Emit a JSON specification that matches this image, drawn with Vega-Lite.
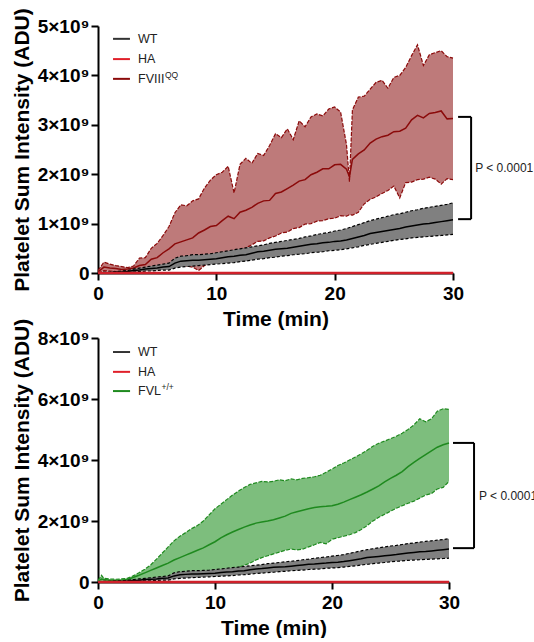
{
  "$schema": "https://vega.github.io/schema/vega-lite/v6.json",
  "padding": {"left": 11, "top": 7, "right": 0, "bottom": 0},
  "background": "white",
  "config": {
    "font": "Liberation Sans",
    "view": {"stroke": null},
    "axis": {
      "grid": false,
      "domainColor": "black", "domainWidth": 2,
      "tickColor": "black", "tickWidth": 2, "tickSize": 7,
      "labelFont": "Liberation Sans", "labelFontWeight": "bold", "labelColor": "black",
      "titleFont": "Liberation Sans", "titleFontWeight": "bold", "titleFontSize": 21, "titleColor": "black",
      "labelFlush": false
    },
    "axisX": {"labelFontSize": 19, "labelPadding": 4, "titlePadding": 5},
    "axisY": {"labelFontSize": 19, "labelPadding": 2, "titlePadding": 5}
  },
  "datasets": {
    "fviii": [
      {"t":0,"lo":0,"mean":0.02e9,"hi":0.05e9},
      {"t":0.5,"lo":0.05e9,"mean":0.12e9,"hi":0.22e9},
      {"t":1,"lo":0.04e9,"mean":0.1e9,"hi":0.18e9},
      {"t":1.5,"lo":0.03e9,"mean":0.09e9,"hi":0.15e9},
      {"t":2,"lo":0.03e9,"mean":0.07e9,"hi":0.13e9},
      {"t":2.5,"lo":0.04e9,"mean":0.08e9,"hi":0.11e9},
      {"t":3,"lo":0.04e9,"mean":0.1e9,"hi":0.14e9},
      {"t":3.5,"lo":0.05e9,"mean":0.15e9,"hi":0.3e9},
      {"t":4,"lo":0.04e9,"mean":0.17e9,"hi":0.31e9},
      {"t":4.5,"lo":0.1e9,"mean":0.28e9,"hi":0.5e9},
      {"t":5,"lo":0.15e9,"mean":0.31e9,"hi":0.6e9},
      {"t":5.5,"lo":0.13e9,"mean":0.41e9,"hi":0.76e9},
      {"t":6,"lo":0.17e9,"mean":0.49e9,"hi":0.94e9},
      {"t":6.5,"lo":0.16e9,"mean":0.59e9,"hi":1.22e9},
      {"t":7,"lo":0.19e9,"mean":0.63e9,"hi":1.38e9},
      {"t":7.5,"lo":0.14e9,"mean":0.67e9,"hi":1.36e9},
      {"t":8,"lo":0.12e9,"mean":0.71e9,"hi":1.46e9},
      {"t":8.5,"lo":0.05e9,"mean":0.81e9,"hi":1.5e9},
      {"t":9,"lo":0.15e9,"mean":0.87e9,"hi":1.72e9},
      {"t":9.5,"lo":0.22e9,"mean":0.94e9,"hi":1.88e9},
      {"t":10,"lo":0.27e9,"mean":0.96e9,"hi":1.99e9},
      {"t":10.5,"lo":0.33e9,"mean":1.06e9,"hi":2.04e9},
      {"t":11,"lo":0.37e9,"mean":1.15e9,"hi":2.16e9},
      {"t":11.5,"lo":0.42e9,"mean":1.1e9,"hi":1.62e9},
      {"t":12,"lo":0.45e9,"mean":1.23e9,"hi":2.2e9},
      {"t":12.5,"lo":0.51e9,"mean":1.27e9,"hi":2.32e9},
      {"t":13,"lo":0.57e9,"mean":1.33e9,"hi":2.22e9},
      {"t":13.5,"lo":0.64e9,"mean":1.41e9,"hi":2.42e9},
      {"t":14,"lo":0.65e9,"mean":1.46e9,"hi":2.38e9},
      {"t":14.5,"lo":0.71e9,"mean":1.47e9,"hi":2.58e9},
      {"t":15,"lo":0.75e9,"mean":1.61e9,"hi":2.82e9},
      {"t":15.5,"lo":0.81e9,"mean":1.64e9,"hi":2.74e9},
      {"t":16,"lo":0.83e9,"mean":1.71e9,"hi":2.92e9},
      {"t":16.5,"lo":0.9e9,"mean":1.78e9,"hi":2.7e9},
      {"t":17,"lo":0.92e9,"mean":1.86e9,"hi":3.08e9},
      {"t":17.5,"lo":0.99e9,"mean":1.89e9,"hi":2.96e9},
      {"t":18,"lo":1.0e9,"mean":1.99e9,"hi":3.16e9},
      {"t":18.5,"lo":1.05e9,"mean":2.04e9,"hi":3.22e9},
      {"t":19,"lo":1.06e9,"mean":2.11e9,"hi":3.18e9},
      {"t":19.5,"lo":1.1e9,"mean":2.11e9,"hi":3.32e9},
      {"t":20,"lo":1.11e9,"mean":2.19e9,"hi":3.36e9},
      {"t":20.5,"lo":1.16e9,"mean":2.2e9,"hi":3.26e9},
      {"t":21,"lo":1.15e9,"mean":2.1e9,"hi":2.6e9},
      {"t":21.25,"lo":1.18e9,"mean":1.95e9,"hi":1.85e9},
      {"t":21.5,"lo":1.17e9,"mean":2.3e9,"hi":3.3e9},
      {"t":22,"lo":1.23e9,"mean":2.41e9,"hi":3.56e9},
      {"t":22.5,"lo":1.4e9,"mean":2.49e9,"hi":3.58e9},
      {"t":23,"lo":1.49e9,"mean":2.63e9,"hi":3.72e9},
      {"t":23.5,"lo":1.54e9,"mean":2.71e9,"hi":3.86e9},
      {"t":24,"lo":1.61e9,"mean":2.76e9,"hi":3.9e9},
      {"t":24.5,"lo":1.67e9,"mean":2.79e9,"hi":3.74e9},
      {"t":25,"lo":1.76e9,"mean":2.86e9,"hi":3.96e9},
      {"t":25.5,"lo":1.52e9,"mean":2.87e9,"hi":4.0e9},
      {"t":26,"lo":1.83e9,"mean":2.93e9,"hi":4.16e9},
      {"t":26.5,"lo":1.84e9,"mean":3.1e9,"hi":4.4e9},
      {"t":27,"lo":1.89e9,"mean":3.19e9,"hi":4.62e9},
      {"t":27.5,"lo":1.9e9,"mean":3.14e9,"hi":4.2e9},
      {"t":28,"lo":1.94e9,"mean":3.23e9,"hi":4.42e9},
      {"t":28.5,"lo":1.9e9,"mean":3.25e9,"hi":4.46e9},
      {"t":29,"lo":1.8e9,"mean":3.28e9,"hi":4.5e9},
      {"t":29.5,"lo":1.91e9,"mean":3.12e9,"hi":4.38e9},
      {"t":30,"lo":1.89e9,"mean":3.13e9,"hi":4.35e9}
    ],
    "wt": [
      {"t":0,"lo":0,"mean":0,"hi":0},
      {"t":0.5,"lo":0,"mean":0.01e9,"hi":0.02e9},
      {"t":1,"lo":0,"mean":0.01e9,"hi":0.02e9},
      {"t":1.5,"lo":0.01e9,"mean":0.02e9,"hi":0.03e9},
      {"t":2,"lo":0.01e9,"mean":0.02e9,"hi":0.04e9},
      {"t":2.5,"lo":0.01e9,"mean":0.03e9,"hi":0.05e9},
      {"t":3,"lo":0.02e9,"mean":0.05e9,"hi":0.08e9},
      {"t":3.5,"lo":0.03e9,"mean":0.06e9,"hi":0.1e9},
      {"t":4,"lo":0.04e9,"mean":0.08e9,"hi":0.12e9},
      {"t":4.5,"lo":0.04e9,"mean":0.09e9,"hi":0.14e9},
      {"t":5,"lo":0.05e9,"mean":0.1e9,"hi":0.16e9},
      {"t":5.5,"lo":0.06e9,"mean":0.12e9,"hi":0.18e9},
      {"t":6,"lo":0.06e9,"mean":0.13e9,"hi":0.2e9},
      {"t":6.5,"lo":0.1e9,"mean":0.2e9,"hi":0.3e9},
      {"t":7,"lo":0.12e9,"mean":0.24e9,"hi":0.34e9},
      {"t":7.5,"lo":0.13e9,"mean":0.25e9,"hi":0.35e9},
      {"t":8,"lo":0.14e9,"mean":0.26e9,"hi":0.37e9},
      {"t":8.5,"lo":0.15e9,"mean":0.26e9,"hi":0.37e9},
      {"t":9,"lo":0.16e9,"mean":0.27e9,"hi":0.38e9},
      {"t":9.5,"lo":0.17e9,"mean":0.28e9,"hi":0.39e9},
      {"t":10,"lo":0.18e9,"mean":0.29e9,"hi":0.41e9},
      {"t":10.5,"lo":0.19e9,"mean":0.31e9,"hi":0.43e9},
      {"t":11,"lo":0.2e9,"mean":0.33e9,"hi":0.45e9},
      {"t":11.5,"lo":0.21e9,"mean":0.34e9,"hi":0.47e9},
      {"t":12,"lo":0.23e9,"mean":0.36e9,"hi":0.49e9},
      {"t":12.5,"lo":0.24e9,"mean":0.37e9,"hi":0.51e9},
      {"t":13,"lo":0.26e9,"mean":0.4e9,"hi":0.53e9},
      {"t":13.5,"lo":0.28e9,"mean":0.43e9,"hi":0.55e9},
      {"t":14,"lo":0.29e9,"mean":0.44e9,"hi":0.57e9},
      {"t":14.5,"lo":0.31e9,"mean":0.46e9,"hi":0.6e9},
      {"t":15,"lo":0.32e9,"mean":0.48e9,"hi":0.62e9},
      {"t":15.5,"lo":0.34e9,"mean":0.49e9,"hi":0.64e9},
      {"t":16,"lo":0.35e9,"mean":0.5e9,"hi":0.66e9},
      {"t":16.5,"lo":0.37e9,"mean":0.52e9,"hi":0.68e9},
      {"t":17,"lo":0.38e9,"mean":0.54e9,"hi":0.7e9},
      {"t":17.5,"lo":0.39e9,"mean":0.56e9,"hi":0.73e9},
      {"t":18,"lo":0.41e9,"mean":0.58e9,"hi":0.75e9},
      {"t":18.5,"lo":0.42e9,"mean":0.59e9,"hi":0.78e9},
      {"t":19,"lo":0.43e9,"mean":0.61e9,"hi":0.8e9},
      {"t":19.5,"lo":0.45e9,"mean":0.62e9,"hi":0.82e9},
      {"t":20,"lo":0.46e9,"mean":0.64e9,"hi":0.85e9},
      {"t":20.5,"lo":0.47e9,"mean":0.65e9,"hi":0.87e9},
      {"t":21,"lo":0.49e9,"mean":0.67e9,"hi":0.9e9},
      {"t":21.5,"lo":0.51e9,"mean":0.7e9,"hi":0.94e9},
      {"t":22,"lo":0.53e9,"mean":0.73e9,"hi":0.98e9},
      {"t":22.5,"lo":0.56e9,"mean":0.76e9,"hi":1.02e9},
      {"t":23,"lo":0.58e9,"mean":0.8e9,"hi":1.06e9},
      {"t":23.5,"lo":0.6e9,"mean":0.82e9,"hi":1.09e9},
      {"t":24,"lo":0.62e9,"mean":0.84e9,"hi":1.12e9},
      {"t":24.5,"lo":0.64e9,"mean":0.86e9,"hi":1.15e9},
      {"t":25,"lo":0.66e9,"mean":0.88e9,"hi":1.18e9},
      {"t":25.5,"lo":0.68e9,"mean":0.9e9,"hi":1.2e9},
      {"t":26,"lo":0.69e9,"mean":0.93e9,"hi":1.23e9},
      {"t":26.5,"lo":0.71e9,"mean":0.95e9,"hi":1.26e9},
      {"t":27,"lo":0.72e9,"mean":0.97e9,"hi":1.28e9},
      {"t":27.5,"lo":0.73e9,"mean":0.99e9,"hi":1.31e9},
      {"t":28,"lo":0.74e9,"mean":1.0e9,"hi":1.33e9},
      {"t":28.5,"lo":0.75e9,"mean":1.02e9,"hi":1.35e9},
      {"t":29,"lo":0.76e9,"mean":1.04e9,"hi":1.37e9},
      {"t":29.5,"lo":0.77e9,"mean":1.06e9,"hi":1.39e9},
      {"t":30,"lo":0.78e9,"mean":1.08e9,"hi":1.42e9}
    ],
    "fvl": [
      {"t":0,"lo":0,"mean":0.02e9,"hi":0.05e9},
      {"t":0.3,"lo":0.02e9,"mean":0.1e9,"hi":0.22e9},
      {"t":0.5,"lo":0.02e9,"mean":0.08e9,"hi":0.12e9},
      {"t":1,"lo":0.02e9,"mean":0.06e9,"hi":0.1e9},
      {"t":1.5,"lo":0.01e9,"mean":0.05e9,"hi":0.09e9},
      {"t":2,"lo":0.02e9,"mean":0.06e9,"hi":0.1e9},
      {"t":2.5,"lo":0.03e9,"mean":0.08e9,"hi":0.12e9},
      {"t":3,"lo":0.06e9,"mean":0.15e9,"hi":0.2e9},
      {"t":3.5,"lo":0.08e9,"mean":0.22e9,"hi":0.3e9},
      {"t":4,"lo":0.1e9,"mean":0.3e9,"hi":0.42e9},
      {"t":4.5,"lo":0.12e9,"mean":0.38e9,"hi":0.56e9},
      {"t":5,"lo":0.14e9,"mean":0.46e9,"hi":0.75e9},
      {"t":5.5,"lo":0.15e9,"mean":0.54e9,"hi":0.95e9},
      {"t":6,"lo":0.16e9,"mean":0.62e9,"hi":1.15e9},
      {"t":6.5,"lo":0.17e9,"mean":0.72e9,"hi":1.35e9},
      {"t":7,"lo":0.18e9,"mean":0.8e9,"hi":1.5e9},
      {"t":7.5,"lo":0.2e9,"mean":0.88e9,"hi":1.62e9},
      {"t":8,"lo":0.22e9,"mean":0.96e9,"hi":1.75e9},
      {"t":8.5,"lo":0.24e9,"mean":1.04e9,"hi":1.85e9},
      {"t":9,"lo":0.27e9,"mean":1.12e9,"hi":2.0e9},
      {"t":9.5,"lo":0.3e9,"mean":1.22e9,"hi":2.2e9},
      {"t":10,"lo":0.33e9,"mean":1.32e9,"hi":2.4e9},
      {"t":10.5,"lo":0.36e9,"mean":1.45e9,"hi":2.55e9},
      {"t":11,"lo":0.38e9,"mean":1.55e9,"hi":2.7e9},
      {"t":11.5,"lo":0.42e9,"mean":1.64e9,"hi":2.85e9},
      {"t":12,"lo":0.48e9,"mean":1.72e9,"hi":2.98e9},
      {"t":12.5,"lo":0.55e9,"mean":1.8e9,"hi":3.1e9},
      {"t":13,"lo":0.62e9,"mean":1.87e9,"hi":3.2e9},
      {"t":13.5,"lo":0.72e9,"mean":1.93e9,"hi":3.25e9},
      {"t":14,"lo":0.8e9,"mean":1.97e9,"hi":3.3e9},
      {"t":14.5,"lo":0.86e9,"mean":2.0e9,"hi":3.28e9},
      {"t":15,"lo":0.92e9,"mean":2.04e9,"hi":3.3e9},
      {"t":15.5,"lo":0.98e9,"mean":2.1e9,"hi":3.35e9},
      {"t":16,"lo":1.04e9,"mean":2.16e9,"hi":3.32e9},
      {"t":16.5,"lo":1.08e9,"mean":2.25e9,"hi":3.38e9},
      {"t":17,"lo":1.05e9,"mean":2.3e9,"hi":3.35e9},
      {"t":17.5,"lo":1.08e9,"mean":2.35e9,"hi":3.4e9},
      {"t":18,"lo":1.15e9,"mean":2.4e9,"hi":3.42e9},
      {"t":18.5,"lo":1.22e9,"mean":2.44e9,"hi":3.45e9},
      {"t":19,"lo":1.3e9,"mean":2.47e9,"hi":3.5e9},
      {"t":19.5,"lo":1.25e9,"mean":2.48e9,"hi":3.6e9},
      {"t":20,"lo":1.4e9,"mean":2.5e9,"hi":3.7e9},
      {"t":20.5,"lo":1.45e9,"mean":2.55e9,"hi":3.82e9},
      {"t":21,"lo":1.5e9,"mean":2.62e9,"hi":3.9e9},
      {"t":21.5,"lo":1.55e9,"mean":2.7e9,"hi":4.0e9},
      {"t":22,"lo":1.62e9,"mean":2.78e9,"hi":4.1e9},
      {"t":22.5,"lo":1.72e9,"mean":2.86e9,"hi":4.2e9},
      {"t":23,"lo":1.85e9,"mean":2.95e9,"hi":4.32e9},
      {"t":23.5,"lo":2.0e9,"mean":3.05e9,"hi":4.45e9},
      {"t":24,"lo":2.12e9,"mean":3.15e9,"hi":4.55e9},
      {"t":24.5,"lo":2.22e9,"mean":3.28e9,"hi":4.62e9},
      {"t":25,"lo":2.32e9,"mean":3.4e9,"hi":4.7e9},
      {"t":25.5,"lo":2.42e9,"mean":3.5e9,"hi":4.78e9},
      {"t":26,"lo":2.5e9,"mean":3.62e9,"hi":4.88e9},
      {"t":26.5,"lo":2.58e9,"mean":3.78e9,"hi":5.0e9},
      {"t":27,"lo":2.65e9,"mean":3.92e9,"hi":5.15e9},
      {"t":27.5,"lo":2.75e9,"mean":4.05e9,"hi":5.35e9},
      {"t":28,"lo":2.85e9,"mean":4.18e9,"hi":5.25e9},
      {"t":28.5,"lo":2.9e9,"mean":4.3e9,"hi":5.35e9},
      {"t":29,"lo":3.05e9,"mean":4.42e9,"hi":5.6e9},
      {"t":29.5,"lo":3.1e9,"mean":4.5e9,"hi":5.68e9},
      {"t":30,"lo":3.3e9,"mean":4.56e9,"hi":5.66e9}
    ],
    "ha": [
      {"t":0,"mean":0},{"t":5,"mean":0},{"t":10,"mean":0},{"t":15,"mean":0},{"t":20,"mean":0},{"t":25,"mean":0},{"t":30,"mean":0}
    ],
    "one": [{"k": 1}]
  },
  "vconcat": [
    {
      "width": 355, "height": 247,
      "layer": [
        {"data": {"name": "fviii"}, "mark": {"type": "area", "color": "#be7a7a", "opacity": 1},
         "encoding": {
           "x": {"field": "t", "type": "quantitative", "scale": {"domain": [0, 30], "nice": false}, "axis": {"values": [0, 10, 20, 30], "title": "Time (min)"}},
           "y": {"field": "lo", "type": "quantitative", "scale": {"domain": [0, 5e9], "nice": false},
            "axis": {"values": [0, 1e9, 2e9, 3e9, 4e9, 5e9], "title": "Platelet Sum Intensity (ADU)", "labelExpr": "datum.value == 0 ? '0' : format(datum.value / 1e9, 'd') + '×10⁹'"}},
           "y2": {"field": "hi"}}},
        {"data": {"name": "fviii"}, "mark": {"type": "line", "color": "#8b0a0a", "strokeWidth": 1.2, "strokeDash": [4, 1.5]}, "encoding": {"x": {"field": "t", "type": "quantitative"}, "y": {"field": "hi", "type": "quantitative"}}},
        {"data": {"name": "fviii"}, "mark": {"type": "line", "color": "#8b0a0a", "strokeWidth": 1.2, "strokeDash": [4, 1.5]}, "encoding": {"x": {"field": "t", "type": "quantitative"}, "y": {"field": "lo", "type": "quantitative"}}},
        {"data": {"name": "fviii"}, "mark": {"type": "line", "color": "#8b0a0a", "strokeWidth": 1.5}, "encoding": {"x": {"field": "t", "type": "quantitative"}, "y": {"field": "mean", "type": "quantitative"}}},
        {"data": {"name": "wt"}, "mark": {"type": "area", "color": "#808080", "opacity": 1}, "encoding": {"x": {"field": "t", "type": "quantitative"}, "y": {"field": "lo", "type": "quantitative"}, "y2": {"field": "hi"}}},
        {"data": {"name": "wt"}, "mark": {"type": "line", "color": "black", "strokeWidth": 1.2, "strokeDash": [3, 2]}, "encoding": {"x": {"field": "t", "type": "quantitative"}, "y": {"field": "hi", "type": "quantitative"}}},
        {"data": {"name": "wt"}, "mark": {"type": "line", "color": "black", "strokeWidth": 1.2, "strokeDash": [3, 2]}, "encoding": {"x": {"field": "t", "type": "quantitative"}, "y": {"field": "lo", "type": "quantitative"}}},
        {"data": {"name": "wt"}, "mark": {"type": "line", "color": "black", "strokeWidth": 1.5}, "encoding": {"x": {"field": "t", "type": "quantitative"}, "y": {"field": "mean", "type": "quantitative"}}},
        {"data": {"name": "ha"}, "mark": {"type": "line", "color": "#d0202a", "strokeWidth": 2.5}, "encoding": {"x": {"field": "t", "type": "quantitative"}, "y": {"field": "mean", "type": "quantitative"}}},
        {"data": {"name": "one"}, "mark": {"type": "rule", "color": "black", "strokeWidth": 2}, "encoding": {"x": {"datum": 30.43, "type": "quantitative"}, "x2": {"datum": 31.53}, "y": {"datum": 3.16e9, "type": "quantitative"}}},
        {"data": {"name": "one"}, "mark": {"type": "rule", "color": "black", "strokeWidth": 2}, "encoding": {"x": {"datum": 30.43, "type": "quantitative"}, "x2": {"datum": 31.53}, "y": {"datum": 1.09e9, "type": "quantitative"}}},
        {"data": {"name": "one"}, "mark": {"type": "rule", "color": "black", "strokeWidth": 2}, "encoding": {"x": {"datum": 31.53, "type": "quantitative"}, "y": {"datum": 3.16e9, "type": "quantitative"}, "y2": {"datum": 1.09e9}}},
        {"data": {"name": "one"}, "mark": {"type": "text", "align": "left", "baseline": "middle", "fontSize": 12, "color": "#222"}, "encoding": {"x": {"datum": 31.87, "type": "quantitative"}, "y": {"datum": 2.125e9, "type": "quantitative"}, "text": {"value": "P < 0.0001"}}},
        {"data": {"name": "one"}, "mark": {"type": "rule", "color": "#333", "strokeWidth": 2}, "encoding": {"x": {"datum": 1.27, "type": "quantitative"}, "x2": {"datum": 2.7}, "y": {"datum": 4.74e9, "type": "quantitative"}}},
        {"data": {"name": "one"}, "mark": {"type": "rule", "color": "#e0202a", "strokeWidth": 2}, "encoding": {"x": {"datum": 1.27, "type": "quantitative"}, "x2": {"datum": 2.7}, "y": {"datum": 4.33e9, "type": "quantitative"}}},
        {"data": {"name": "one"}, "mark": {"type": "rule", "color": "#8b0a0a", "strokeWidth": 2}, "encoding": {"x": {"datum": 1.27, "type": "quantitative"}, "x2": {"datum": 2.7}, "y": {"datum": 3.93e9, "type": "quantitative"}}},
        {"data": {"name": "one"}, "mark": {"type": "text", "align": "left", "baseline": "middle", "fontSize": 12.5, "color": "#222"}, "encoding": {"x": {"datum": 3.38, "type": "quantitative"}, "y": {"datum": 4.74e9, "type": "quantitative"}, "text": {"value": "WT"}}},
        {"data": {"name": "one"}, "mark": {"type": "text", "align": "left", "baseline": "middle", "fontSize": 12.5, "color": "#222"}, "encoding": {"x": {"datum": 3.38, "type": "quantitative"}, "y": {"datum": 4.33e9, "type": "quantitative"}, "text": {"value": "HA"}}},
        {"data": {"name": "one"}, "mark": {"type": "text", "align": "left", "baseline": "middle", "fontSize": 12.5, "color": "#222"}, "encoding": {"x": {"datum": 3.38, "type": "quantitative"}, "y": {"datum": 3.93e9, "type": "quantitative"}, "text": {"value": "FVIII"}}},
        {"data": {"name": "one"}, "mark": {"type": "text", "align": "left", "baseline": "middle", "fontSize": 8.5, "dx": 27, "dy": -4, "color": "#222"}, "encoding": {"x": {"datum": 3.38, "type": "quantitative"}, "y": {"datum": 3.93e9, "type": "quantitative"}, "text": {"value": "QQ"}}}
      ]
    },
    {
      "width": 351, "height": 244,
      "layer": [
        {"data": {"name": "fvl"}, "mark": {"type": "area", "color": "#7dbe7d", "opacity": 1},
         "encoding": {
           "x": {"field": "t", "type": "quantitative", "scale": {"domain": [0, 30], "nice": false}, "axis": {"values": [0, 10, 20, 30], "title": "Time (min)"}},
           "y": {"field": "lo", "type": "quantitative", "scale": {"domain": [0, 8e9], "nice": false},
            "axis": {"values": [0, 2e9, 4e9, 6e9, 8e9], "title": "Platelet Sum Intensity (ADU)", "labelExpr": "datum.value == 0 ? '0' : format(datum.value / 1e9, 'd') + '×10⁹'"}},
           "y2": {"field": "hi"}}},
        {"data": {"name": "fvl"}, "mark": {"type": "line", "color": "#1f8a1f", "strokeWidth": 1.2, "strokeDash": [4, 1.5]}, "encoding": {"x": {"field": "t", "type": "quantitative"}, "y": {"field": "hi", "type": "quantitative"}}},
        {"data": {"name": "fvl"}, "mark": {"type": "line", "color": "#1f8a1f", "strokeWidth": 1.2, "strokeDash": [4, 1.5]}, "encoding": {"x": {"field": "t", "type": "quantitative"}, "y": {"field": "lo", "type": "quantitative"}}},
        {"data": {"name": "fvl"}, "mark": {"type": "line", "color": "#1f8a1f", "strokeWidth": 1.5}, "encoding": {"x": {"field": "t", "type": "quantitative"}, "y": {"field": "mean", "type": "quantitative"}}},
        {"data": {"name": "wt"}, "mark": {"type": "area", "color": "#808080", "opacity": 1}, "encoding": {"x": {"field": "t", "type": "quantitative"}, "y": {"field": "lo", "type": "quantitative"}, "y2": {"field": "hi"}}},
        {"data": {"name": "wt"}, "mark": {"type": "line", "color": "black", "strokeWidth": 1.2, "strokeDash": [3, 2]}, "encoding": {"x": {"field": "t", "type": "quantitative"}, "y": {"field": "hi", "type": "quantitative"}}},
        {"data": {"name": "wt"}, "mark": {"type": "line", "color": "black", "strokeWidth": 1.2, "strokeDash": [3, 2]}, "encoding": {"x": {"field": "t", "type": "quantitative"}, "y": {"field": "lo", "type": "quantitative"}}},
        {"data": {"name": "wt"}, "mark": {"type": "line", "color": "black", "strokeWidth": 1.5}, "encoding": {"x": {"field": "t", "type": "quantitative"}, "y": {"field": "mean", "type": "quantitative"}}},
        {"data": {"name": "ha"}, "mark": {"type": "line", "color": "#d0202a", "strokeWidth": 2.5}, "encoding": {"x": {"field": "t", "type": "quantitative"}, "y": {"field": "mean", "type": "quantitative"}}},
        {"data": {"name": "one"}, "mark": {"type": "rule", "color": "black", "strokeWidth": 2}, "encoding": {"x": {"datum": 30.34, "type": "quantitative"}, "x2": {"datum": 32.14}, "y": {"datum": 4.56e9, "type": "quantitative"}}},
        {"data": {"name": "one"}, "mark": {"type": "rule", "color": "black", "strokeWidth": 2}, "encoding": {"x": {"datum": 30.34, "type": "quantitative"}, "x2": {"datum": 32.14}, "y": {"datum": 1.11e9, "type": "quantitative"}}},
        {"data": {"name": "one"}, "mark": {"type": "rule", "color": "black", "strokeWidth": 2}, "encoding": {"x": {"datum": 32.14, "type": "quantitative"}, "y": {"datum": 4.56e9, "type": "quantitative"}, "y2": {"datum": 1.11e9}}},
        {"data": {"name": "one"}, "mark": {"type": "text", "align": "left", "baseline": "middle", "fontSize": 12, "color": "#222"}, "encoding": {"x": {"datum": 32.56, "type": "quantitative"}, "y": {"datum": 2.835e9, "type": "quantitative"}, "text": {"value": "P < 0.0001"}}},
        {"data": {"name": "one"}, "mark": {"type": "rule", "color": "#333", "strokeWidth": 2}, "encoding": {"x": {"datum": 1.28, "type": "quantitative"}, "x2": {"datum": 2.74}, "y": {"datum": 7.54e9, "type": "quantitative"}}},
        {"data": {"name": "one"}, "mark": {"type": "rule", "color": "#e0202a", "strokeWidth": 2}, "encoding": {"x": {"datum": 1.28, "type": "quantitative"}, "x2": {"datum": 2.74}, "y": {"datum": 6.89e9, "type": "quantitative"}}},
        {"data": {"name": "one"}, "mark": {"type": "rule", "color": "#1f8a1f", "strokeWidth": 2}, "encoding": {"x": {"datum": 1.28, "type": "quantitative"}, "x2": {"datum": 2.74}, "y": {"datum": 6.26e9, "type": "quantitative"}}},
        {"data": {"name": "one"}, "mark": {"type": "text", "align": "left", "baseline": "middle", "fontSize": 12.5, "color": "#222"}, "encoding": {"x": {"datum": 3.42, "type": "quantitative"}, "y": {"datum": 7.54e9, "type": "quantitative"}, "text": {"value": "WT"}}},
        {"data": {"name": "one"}, "mark": {"type": "text", "align": "left", "baseline": "middle", "fontSize": 12.5, "color": "#222"}, "encoding": {"x": {"datum": 3.42, "type": "quantitative"}, "y": {"datum": 6.89e9, "type": "quantitative"}, "text": {"value": "HA"}}},
        {"data": {"name": "one"}, "mark": {"type": "text", "align": "left", "baseline": "middle", "fontSize": 12.5, "color": "#222"}, "encoding": {"x": {"datum": 3.42, "type": "quantitative"}, "y": {"datum": 6.26e9, "type": "quantitative"}, "text": {"value": "FVL"}}},
        {"data": {"name": "one"}, "mark": {"type": "text", "align": "left", "baseline": "middle", "fontSize": 8.5, "dx": 23.5, "dy": -4, "color": "#222"}, "encoding": {"x": {"datum": 3.42, "type": "quantitative"}, "y": {"datum": 6.26e9, "type": "quantitative"}, "text": {"value": "+/+"}}}
      ]
    }
  ],
  "spacing": 65,
  "bounds": "flush"
}
